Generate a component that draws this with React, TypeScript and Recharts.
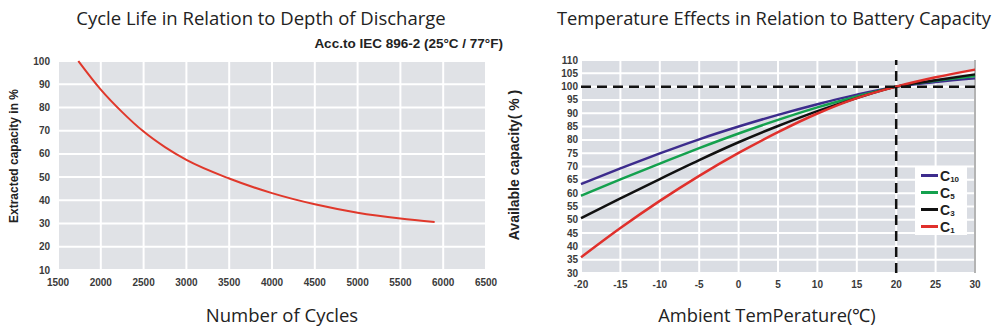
import React from 'react';
import { LineChart, Line, XAxis, YAxis, CartesianGrid, ReferenceLine } from 'recharts';

// left chart: cycle life vs depth of discharge
const cycleTicks = [1500, 2000, 2500, 3000, 3500, 4000, 4500, 5000, 5500, 6000, 6500];
const capacityTicks = [10, 20, 30, 40, 50, 60, 70, 80, 90, 100];
const cycles = [1738, 2000, 2250, 2500, 2750, 3000, 3500, 4000, 4500, 5000, 5500, 5900];
const extracted = [100, 87.7, 78.0, 69.6, 62.9, 57.4, 49.4, 43.1, 38.3, 34.7, 32.2, 30.7];

// right chart: temperature vs available capacity
const tempTicks = [-20, -15, -10, -5, 0, 5, 10, 15, 20, 25, 30];
const availTicks = [30, 35, 40, 45, 50, 55, 60, 65, 70, 75, 80, 85, 90, 95, 100, 105, 110];
const temps = [-20, -15, -10, -5, 0, 5, 10, 15, 20, 25, 30];
const c10 = [63.4, 69.3, 74.9, 80.2, 85.0, 89.4, 93.4, 97.0, 100, 101.7, 103.1];
const c5 = [59.0, 65.2, 71.1, 76.9, 82.4, 87.5, 92.2, 96.3, 100, 102.2, 104.0];
const c3 = [50.6, 58.0, 65.3, 72.4, 79.1, 85.2, 90.8, 95.7, 100, 102.4, 104.6];
const c1 = [35.9, 46.9, 57.1, 66.5, 75.1, 82.9, 89.9, 95.7, 100, 103.5, 106.4];

const series = [
  { key: 'c10', sub: '10', color: '#3d2c8d' },
  { key: 'c5', sub: '5', color: '#14a14e' },
  { key: 'c3', sub: '3', color: '#111111' },
  { key: 'c1', sub: '1', color: '#e0302c' },
];

const cycleData = cycles.map((c, i) => ({ cycles: c, capacity: extracted[i] }));
const tempData = temps.map((t, i) => ({ temp: t, c10: c10[i], c5: c5[i], c3: c3[i], c1: c1[i] }));

const arial = 'Liberation Sans, Arial, sans-serif';
const tickStyle = { fill: '#3a3a3a', fontSize: 10, fontWeight: 700, fontFamily: arial };
const titleFont = '"Open Sans", sans-serif';

function TempLegend() {
  return (
    <div style={{ position: 'absolute', left: 915, top: 167, width: 52, height: 68, background: '#fff', boxSizing: 'border-box', padding: '0 0 0 6px', fontFamily: arial }}>
      {series.map(s => (
        <div key={s.key} style={{ display: 'flex', alignItems: 'center', height: 17 }}>
          <span style={{ display: 'inline-block', width: 17, height: 2.5, background: s.color, marginRight: 2 }} />
          <span style={{ fontSize: 14, fontWeight: 700, color: '#222', lineHeight: '14px' }}>C</span>
          <span style={{ fontSize: 8, fontWeight: 700, color: '#222', marginTop: 8 }}>{s.sub}</span>
        </div>
      ))}
    </div>
  );
}

export default function App() {
  return (
    <div style={{ position: 'absolute', left: 0, top: 0, width: 995, height: 328, background: '#fff', overflow: 'hidden' }}>
      {/* titles */}
      <div style={{ position: 'absolute', left: 11, top: 5, width: 500, textAlign: 'center', fontFamily: titleFont, fontSize: 18.5, color: '#222', whiteSpace: 'nowrap' }}>
        Cycle Life in Relation to Depth of Discharge
      </div>
      <div style={{ position: 'absolute', left: 290, top: 36, width: 213, textAlign: 'right', fontFamily: arial, fontWeight: 700, fontSize: 13.5, color: '#222', whiteSpace: 'nowrap' }}>
        Acc.to IEC 896-2 (25°C / 77°F)
      </div>
      <div style={{ position: 'absolute', left: 14, top: 156, transform: 'translate(-50%, -50%) rotate(-90deg)', fontFamily: arial, fontWeight: 700, fontSize: 12, color: '#222', whiteSpace: 'nowrap' }}>
        Extracted capacity in %
      </div>
      <div style={{ position: 'absolute', left: 182, top: 302, width: 200, textAlign: 'center', fontFamily: titleFont, fontSize: 18.5, color: '#222' }}>
        Number of Cycles
      </div>

      <div style={{ position: 'absolute', left: 524, top: 5, width: 500, textAlign: 'center', fontFamily: titleFont, fontSize: 18.3, color: '#222', whiteSpace: 'nowrap' }}>
        Temperature Effects in Relation to Battery Capacity
      </div>
      <div style={{ position: 'absolute', left: 514, top: 165, transform: 'translate(-50%, -50%) rotate(-90deg)', fontFamily: arial, fontWeight: 700, fontSize: 14, color: '#222', whiteSpace: 'nowrap' }}>
        Available capacity( % )
      </div>
      <div style={{ position: 'absolute', left: 617, top: 302, width: 300, textAlign: 'center', fontFamily: titleFont, fontSize: 18.3, color: '#222' }}>
        Ambient TemPerature(℃)
      </div>

      <div style={{ position: 'absolute', left: 0, top: 0 }}>
        <LineChart width={500} height={328} data={cycleData} margin={{ top: 61, right: 14, left: 8, bottom: 28 }}>
          <CartesianGrid fill="#e0e2e6" stroke="#ffffff" strokeWidth={2} />
          <XAxis dataKey="cycles" type="number" domain={[1500, 6500]} ticks={cycleTicks} axisLine={false} tickLine={false} tick={tickStyle} tickMargin={3} height={30} />
          <YAxis type="number" domain={[10, 100]} ticks={capacityTicks} axisLine={false} tickLine={false} tick={tickStyle} width={50} />
          <Line type="monotone" dataKey="capacity" stroke="#e0382b" strokeWidth={2} dot={false} isAnimationActive={false} />
        </LineChart>
      </div>

      <div style={{ position: 'absolute', left: 500, top: 0 }}>
        <LineChart width={495} height={328} data={tempData} margin={{ top: 60, right: 20, left: 41, bottom: 25 }}>
          <CartesianGrid fill="#dadde3" stroke="#ffffff" strokeWidth={2} />
          <XAxis dataKey="temp" type="number" domain={[-20, 30]} ticks={tempTicks} axisLine={false} tickLine={false} tick={tickStyle} height={30} />
          <YAxis type="number" domain={[30, 110]} ticks={availTicks} axisLine={false} tickLine={false} tick={tickStyle} width={40} interval={0} tickSize={0} tickMargin={3} />
          <ReferenceLine x={30} stroke="#9a9a9a" strokeWidth={1.5} />
          {series.map(s => (
            <Line key={s.key} type="monotone" dataKey={s.key} stroke={s.color} strokeWidth={2.5} dot={false} isAnimationActive={false} />
          ))}
          <ReferenceLine y={100} stroke="#111" strokeWidth={2.5} strokeDasharray="10 6" />
          <ReferenceLine x={20} stroke="#111" strokeWidth={2.5} strokeDasharray="10 6" />
        </LineChart>
      </div>
      <TempLegend />
    </div>
  );
}
